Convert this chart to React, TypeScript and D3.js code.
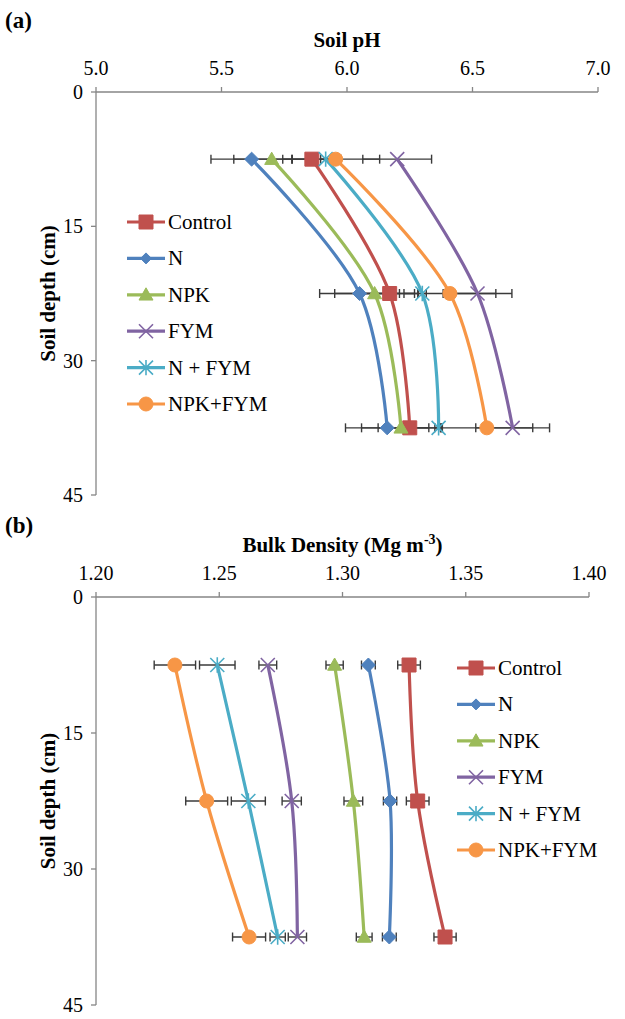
import React from 'react';
import * as d3 from 'd3';

// depth mid-points (cm) of the three sampled layers
const depths = [7.5, 22.5, 37.5];
const depthTicks = [0, 15, 30, 45];

const treatments = ['Control', 'N', 'NPK', 'FYM', 'N + FYM', 'NPK+FYM'];
const colors = ['#C0504D', '#4F81BD', '#9BBB59', '#8064A2', '#4BACC6', '#F79646'];
const markers = ['square', 'diamond', 'triangle', 'x', 'star', 'circle'];

// soil pH per treatment (same order as depths)
const phControl = [5.86, 6.17, 6.25];
const phN = [5.62, 6.05, 6.16];
const phNPK = [5.7, 6.11, 6.215];
const phFYM = [6.2, 6.52, 6.66];
const phNFYM = [5.915, 6.3, 6.365];
const phNPKFYM = [5.955, 6.41, 6.557];
const phErr = [
  [0.116, 0.112, 0.126],
  [0.162, 0.159, 0.166],
  [0.151, 0.159, 0.157],
  [0.137, 0.137, 0.147],
  [0.02, 0.016, 0.015],
  [0.175, 0.183, 0.183],
];
const phTicks = [5.0, 5.5, 6.0, 6.5, 7.0];

// bulk density (Mg m-3)
const bdControl = [1.327, 1.3305, 1.3416];
const bdN = [1.3105, 1.3193, 1.319];
const bdNPK = [1.2968, 1.3044, 1.3088];
const bdFYM = [1.2697, 1.2794, 1.2817];
const bdNFYM = [1.2492, 1.2618, 1.2737];
const bdNPKFYM = [1.232, 1.2449, 1.2621];
const bdErr = [
  [0.0046, 0.0046, 0.0045],
  [0.0028, 0.0027, 0.0028],
  [0.0035, 0.0038, 0.0032],
  [0.0036, 0.0039, 0.0037],
  [0.0072, 0.0069, 0.0031],
  [0.0084, 0.0085, 0.0067],
];
const bdTicks = [1.2, 1.25, 1.3, 1.35, 1.4];

const serif = { fontFamily: "'Liberation Serif'" };
const AXIS = '#868686';

const Marker = ({ type, color, x, y, s = 7 }) => {
  const t = `translate(${x},${y})`;
  if (type === 'circle') return <circle cx={x} cy={y} r={s} fill={color} stroke={color} />;
  let d = '';
  if (type === 'square') d = `M${-s},${-s}h${2 * s}v${2 * s}h${-2 * s}Z`;
  if (type === 'diamond') d = `M0,${-s}L${s},0L0,${s}L${-s},0Z`;
  if (type === 'triangle') d = `M0,${-s}L${s},${s * 0.75}L${-s},${s * 0.75}Z`;
  if (type === 'x' || type === 'star') {
    d = `M${-s},${-s}L${s},${s}M${-s},${s}L${s},${-s}`;
    if (type === 'star') d += `M0,${-s * 1.1}L0,${s * 1.1}`;
    return <path transform={t} d={d} fill="none" stroke={color} strokeWidth={1.6} />;
  }
  return <path transform={t} d={d} fill={color} stroke={color} strokeWidth={1} />;
};

const Panel = ({ top, bottom, xRight, domain, ticks, fmt, series, errs, title, label, legendX, legendY }) => {
  const x = d3.scaleLinear().domain(domain).range([96, xRight]);
  const y = d3.scaleLinear().domain([0, 45]).range([top, bottom]);
  const line = d3
    .line<number>()
    .x((d) => x(d))
    .y((d, i) => y(depths[i]))
    .curve(d3.curveCatmullRom.alpha(0.5));

  return (
    <g>
      <text style={serif} x={5} y={top - 64} fontSize={23} fontWeight="bold">{label}</text>
      <text style={serif} x={(96 + xRight) / 2} y={top - 45} fontSize={21} fontWeight="bold" textAnchor="middle">{title}</text>
      {/* x axis on top */}
      <line x1={96} x2={xRight} y1={top} y2={top} stroke={AXIS} strokeWidth={1.3} />
      {ticks.map((t) => (
        <g key={t}>
          <line x1={x(t)} x2={x(t)} y1={top} y2={top - 5} stroke={AXIS} strokeWidth={1.3} />
          <text style={serif} x={x(t)} y={top - 17} fontSize={20} textAnchor="middle">{fmt(t)}</text>
        </g>
      ))}
      {/* y axis */}
      <line x1={96} x2={96} y1={top} y2={bottom} stroke={AXIS} strokeWidth={1.3} />
      {depthTicks.map((t) => (
        <g key={t}>
          <line x1={91} x2={96} y1={y(t)} y2={y(t)} stroke={AXIS} strokeWidth={1.3} />
          <text style={serif} x={83} y={y(t) + 7} fontSize={20} textAnchor="end">{t}</text>
        </g>
      ))}
      <text
        style={serif}
        transform={`translate(55,${(top + bottom) / 2}) rotate(-90)`}
        fontSize={21}
        fontWeight="bold"
        textAnchor="middle"
      >
        Soil depth (cm)
      </text>
      {/* error bars */}
      {series.map((vals, si) =>
        vals.map((v, i) => {
          const e = errs[si][i];
          const yy = y(depths[i]);
          return (
            <g key={`e${si}-${i}`} stroke="#3a3a3a" strokeWidth={1.4}>
              <line x1={x(v - e)} x2={x(v + e)} y1={yy} y2={yy} />
              <line x1={x(v - e)} x2={x(v - e)} y1={yy - 4.5} y2={yy + 4.5} />
              <line x1={x(v + e)} x2={x(v + e)} y1={yy - 4.5} y2={yy + 4.5} />
            </g>
          );
        })
      )}
      {/* lines and markers */}
      {series.map((vals, si) => (
        <g key={`s${si}`}>
          <path d={line(vals) || ''} fill="none" stroke={colors[si]} strokeWidth={3.2} />
          {vals.map((v, i) => (
            <Marker key={i} type={markers[si]} color={colors[si]} x={x(v)} y={y(depths[i])} />
          ))}
        </g>
      ))}
      {/* legend */}
      {treatments.map((name, i) => {
        const ly = legendY + i * 36.4;
        return (
          <g key={name}>
            <line x1={legendX} x2={legendX + 38} y1={ly} y2={ly} stroke={colors[i]} strokeWidth={3.2} />
            <Marker type={markers[i]} color={colors[i]} x={legendX + 19} y={ly} s={markers[i] === 'diamond' ? 5.5 : 7} />
            <text style={serif} x={legendX + 41} y={ly + 7} fontSize={21}>{name}</text>
          </g>
        );
      })}
    </g>
  );
};

export default function App() {
  const phSeries = [phControl, phN, phNPK, phFYM, phNFYM, phNPKFYM];
  const bdSeries = [bdControl, bdN, bdNPK, bdFYM, bdNFYM, bdNPKFYM];
  return (
    <svg width={625} height={1019} style={{ position: 'absolute', left: 0, top: 0, background: '#fff' }}>
      <Panel
        top={92}
        bottom={495}
        xRight={598}
        domain={[5, 7]}
        ticks={phTicks}
        fmt={d3.format('.1f')}
        series={phSeries}
        errs={phErr}
        title="Soil pH"
        label="(a)"
        legendX={127}
        legendY={222}
      />
      <Panel
        top={597}
        bottom={1005}
        xRight={589}
        domain={[1.2, 1.4]}
        ticks={bdTicks}
        fmt={d3.format('.2f')}
        series={bdSeries}
        errs={bdErr}
        title={
          <>
            Bulk Density (Mg m<tspan dy={-8} fontSize={14}>-3</tspan>
            <tspan dy={8}>)</tspan>
          </>
        }
        label="(b)"
        legendX={457}
        legendY={668}
      />
    </svg>
  );
}
